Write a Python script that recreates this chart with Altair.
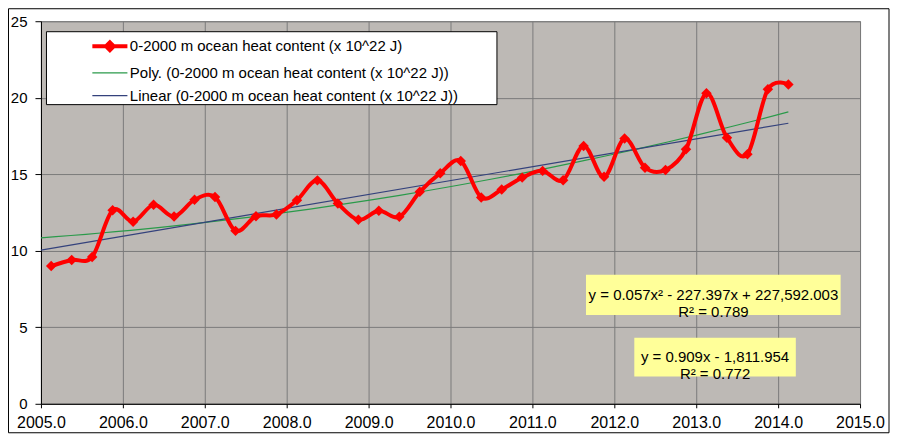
import altair as alt
import pandas as pd

FONT = "Liberation Sans"

S1 = "0-2000 m ocean heat content (x 10^22 J)"
S2 = "Poly. (0-2000 m ocean heat content (x 10^22 J))"
S3 = "Linear (0-2000 m ocean heat content (x 10^22 J))"

years = [2005.125, 2005.375, 2005.625, 2005.875,
         2006.125, 2006.375, 2006.625, 2006.875,
         2007.125, 2007.375, 2007.625, 2007.875,
         2008.125, 2008.375, 2008.625, 2008.875,
         2009.125, 2009.375, 2009.625, 2009.875,
         2010.125, 2010.375, 2010.625, 2010.875,
         2011.125, 2011.375, 2011.625, 2011.875,
         2012.125, 2012.375, 2012.625, 2012.875,
         2013.125, 2013.375, 2013.625, 2013.875,
         2014.125]
ohc = [9.0, 9.4, 9.6, 12.65,
       11.9, 13.0, 12.24, 13.33,
       13.52, 11.3, 12.26, 12.37,
       13.3, 14.6, 13.09, 12.02,
       12.61, 12.22, 13.85, 15.07,
       15.87, 13.48, 14.0, 14.78,
       15.22, 14.61, 16.85, 14.83,
       17.33, 15.43, 15.28, 16.63,
       20.29, 17.39, 16.31, 20.55,
       20.87]

x_ticks = [2005, 2006, 2007, 2008, 2009, 2010, 2011, 2012, 2013, 2014, 2015]
y_ticks = [0, 5, 10, 15, 20, 25]

eq_texts = ["y = 0.057x\u00b2 - 227.397x + 227,592.003\nR\u00b2 = 0.789",
            "y = 0.909x - 1,811.954\nR\u00b2 = 0.772"]

df = pd.DataFrame({"year": years, "ohc": ohc, "series": S1})

# annotation placement (data coordinates)
ann = pd.DataFrame({
    "x1": [2011.654, 2012.244], "x2": [2014.763, 2014.216],
    "y1": [8.44, 4.31], "y2": [5.81, 1.78],
    "tx": [2013.21, 2013.23], "ty": [7.125, 3.045],
    "label": eq_texts,
})

W, H = 820, 383
PADL, PADT, PADR, PADB = 33, 13, 31, 31

xscale = alt.Scale(domain=[2005, 2015], nice=False, zero=False)
yscale = alt.Scale(domain=[0, 25], nice=False, zero=True)

x_axis = alt.Axis(values=x_ticks, format=".1f", title=None, grid=True,
                  tickSize=4, labelPadding=7, labelFlush=False,
                  labelFontSize=16)
y_axis = alt.Axis(values=y_ticks, title=None, grid=True, tickSize=6,
                  labelPadding=8, labelFontSize=15)

PATH1 = "M-1.35,0H1.35M0,-0.3L0.3,0L0,0.3L-0.3,0Z"
PATH2 = "M-1.35,0H1.35"
DOMAIN = [S1, S2, S3]

# trailing no-break spaces (kept by a zero-width space) widen the legend box
PAD_TXT = "\u00a0" * 9 + "\u200b"

legend = alt.Legend(
    orient="none", legendX=5, legendY=10, title=None, direction="vertical",
    fillColor="white", strokeColor="black", padding=0, cornerRadius=0,
    labelFont=FONT, labelFontSize=15, labelColor="black", labelLimit=0,
    symbolSize=676, symbolOpacity=1, symbolFillColor="#ff0000",
    symbolOffset=49, labelOffset=5, rowPadding=0.7,
    labelExpr="datum.label + '" + PAD_TXT + "'",
)

color = alt.Color("series:N",
                  scale=alt.Scale(domain=DOMAIN,
                                  range=["#ff0000", "#2a9a4a", "#34427c"]),
                  legend=legend)
swidth = alt.StrokeWidth("series:N",
                         scale=alt.Scale(type="ordinal", domain=DOMAIN,
                                         range=[4, 1.2, 1.2]),
                         legend=legend)
shape = alt.Shape("series:N",
                  scale=alt.Scale(domain=DOMAIN, range=[PATH1, PATH2, PATH2]),
                  legend=legend)

X = alt.X("year:Q", scale=xscale, axis=x_axis)
Y = alt.Y("ohc:Q", scale=yscale, axis=y_axis)

base = alt.Chart(df)

frame = alt.Chart(pd.DataFrame({"a": [0]})).mark_rect(
    fill=None, stroke="black", strokeWidth=1
).encode(x=alt.value(-PADL + 0.5), x2=alt.value(W + 29),
         y=alt.value(-PADT + 0.5), y2=alt.value(H + 29))

poly = base.transform_regression(
    "year", "ohc", method="poly", order=2, extent=[2005, 2014.125]
).transform_calculate(series=f"'{S2}'").mark_line().encode(
    x=X, y=Y, color=color, strokeWidth=swidth)

lin = base.transform_regression(
    "year", "ohc", method="linear", extent=[2005, 2014.125]
).transform_calculate(series=f"'{S3}'").mark_line().encode(
    x=X, y=Y, color=color, strokeWidth=swidth)

line = base.mark_line(interpolate="cardinal").encode(
    x=X, y=Y, color=color, strokeWidth=swidth)

pts = base.mark_point(shape="diamond", filled=True, size=110, opacity=1,
                      color="#ff0000").encode(x=X, y=Y)

# carries the shape scale for the legend only (draws nothing)
legend_shape = base.transform_filter("false").mark_point(
    filled=True, color="#ff0000").encode(x=X, y=Y, shape=shape)

boxes = alt.Chart(ann).mark_rect(fill="#ffff99", stroke=None).encode(
    x=alt.X("x1:Q", scale=xscale), x2="x2:Q",
    y=alt.Y("y1:Q", scale=yscale), y2="y2:Q")

texts = alt.Chart(ann).mark_text(
    font=FONT, fontSize=15, color="black", lineBreak="\n", lineHeight=17,
    align="center", baseline="middle"
).encode(x=alt.X("tx:Q", scale=xscale), y=alt.Y("ty:Q", scale=yscale),
         text="label:N")

chart = alt.layer(frame, poly, lin, line, pts, legend_shape, boxes, texts).properties(
    width=W, height=H,
    autosize=alt.AutoSizeParams(type="none"),
    padding={"left": PADL, "top": PADT, "right": PADR, "bottom": PADB},
    background="white",
).configure_view(
    fill="#bdb9b5", stroke="#7a7a7a", strokeWidth=1
).configure_axis(
    labelFont=FONT, labelColor="black",
    domainColor="black", domainWidth=1, tickColor="black",
    gridColor="#7a7a7a", gridWidth=1,
)

chart.save("out.html", embed_options={"renderer": "svg", "actions": False})
